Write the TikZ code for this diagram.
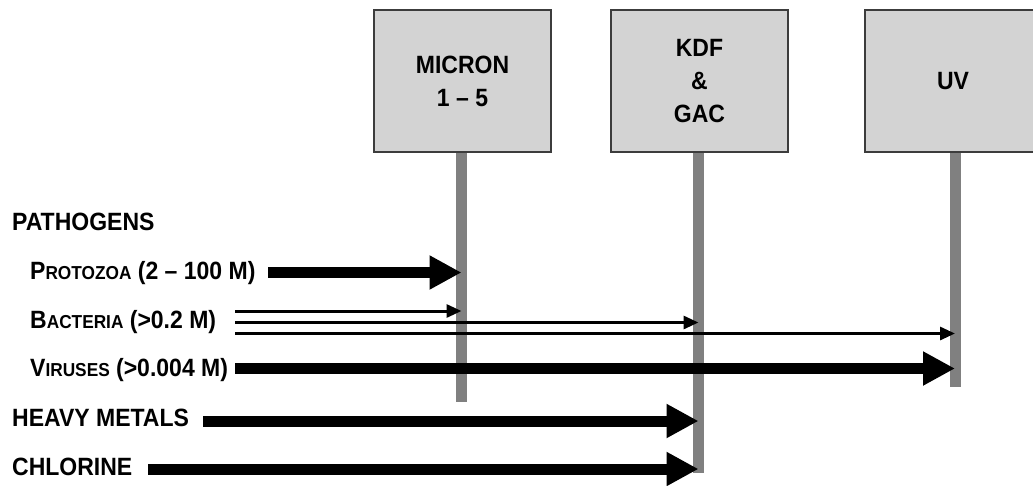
\documentclass[tikz,border=0pt]{standalone}
\usepackage{fontspec}
\setmainfont{Liberation Sans}[FakeStretch=0.92]
\usetikzlibrary{arrows.meta}
\definecolor{boxfill}{HTML}{D3D3D3}
\definecolor{boxline}{HTML}{3C3C3C}
\definecolor{barfill}{HTML}{808080}
\newcommand\smallcap[1]{{\fontsize{18.75}{20}\selectfont #1}}

\begin{document}
\begin{tikzpicture}[x=1pt,y=-1pt,
  stage/.style={draw=boxline, line width=2pt, fill=boxfill,
    minimum width=177pt, minimum height=142pt, inner sep=0pt,
    align=center, font=\bfseries\fontsize{25}{33}\selectfont},
  post/.style={fill=barfill, draw=none, minimum width=11pt,
    inner sep=0pt, anchor=north},
  itemtext/.style={anchor=base west, inner sep=0pt,
    font=\bfseries\fontsize{25}{28}\selectfont},
  heavy/.style={line width=11pt, -{Triangle[length=32pt,width=32pt]}},
  light/.style={line width=3pt, -{Triangle[length=15pt,width=13pt]}}
]
\clip (0,0) rectangle (1033,485);
\fill[white] (0,0) rectangle (1033,485);

% vertical posts below each treatment stage
\node[post, minimum height=250pt] (microbar) at (461.5,152) {};
\node[post, minimum height=321pt] (kdfbar) at (698.5,152) {};
\node[post, minimum height=235pt] (uvbar) at (955,152) {};

% treatment stages
\node[stage] (micron) at (462.5,81) {MICRON\\1 – 5};
\node[stage] (kdf) at (699.5,81) {KDF\\\&\\GAC};
\node[stage] (uv) at (953,81) {UV};

% contaminant labels
\node[itemtext] (pathogens) at (12,230) {PATHOGENS};
\node[itemtext] (protozoa) at (30,279) {P\smallcap{ROTOZOA} (2 – 100 M)};
\node[itemtext] (bacteria) at (30,328) {B\smallcap{ACTERIA} (>0.2 M)};
\node[itemtext] (viruses) at (30,376) {V\smallcap{IRUSES} (>0.004 M)};
\node[itemtext] (metals) at (12,426) {HEAVY METALS};
\node[itemtext] (chlorine) at (12,475) {CHLORINE};

% arrow tails
\coordinate (pzt) at (268,272.5);
\coordinate (bat1) at (235,311);
\coordinate (bat2) at (235,322.5);
\coordinate (bat3) at (235,333.5);
\coordinate (vit) at (235,368.5);
\coordinate (hmt) at (203,421);
\coordinate (clt) at (148,469);

% removal arrows
\draw[heavy] (pzt) -- (pzt -| microbar);
\draw[light] (bat1) -- (bat1 -| microbar);
\draw[light] (bat2) -- (bat2 -| kdfbar);
\draw[light] (bat3) -- (bat3 -| uvbar);
\draw[heavy] (vit) -- (vit -| uvbar);
\draw[heavy] (hmt) -- (hmt -| kdfbar);
\draw[heavy] (clt) -- (clt -| kdfbar);
\end{tikzpicture}
\end{document}
